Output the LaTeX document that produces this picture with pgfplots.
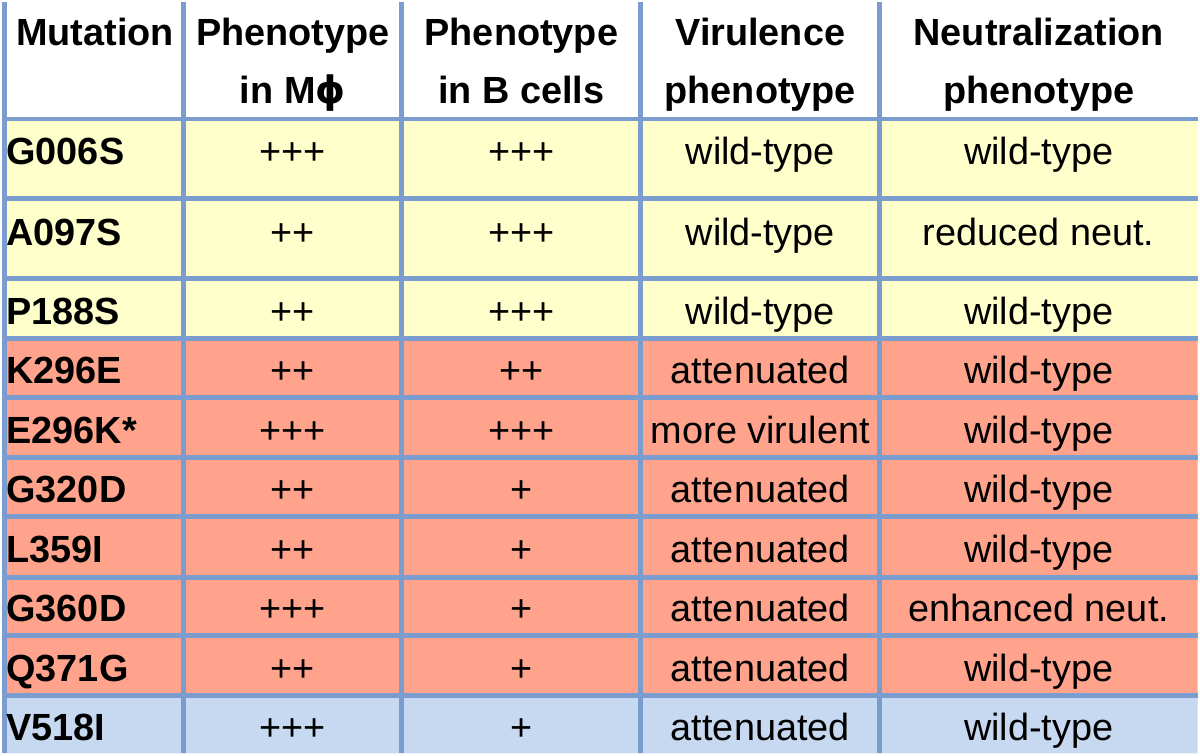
\documentclass[border=0pt]{standalone}
\usepackage{pgfplots}
\pgfplotsset{compat=1.18}
\usepackage{fontspec}
\setmainfont{Liberation Sans}
\newfontfamily\dvs{DejaVu Sans}
\definecolor{ylw}{RGB}{255,255,204}
\definecolor{sal}{RGB}{255,163,140}
\definecolor{lblue}{RGB}{198,217,240}
\definecolor{gridc}{RGB}{122,156,206}
\tikzset{tc/.style={font=\fontsize{19}{29}\selectfont,inner sep=0pt,outer sep=0pt}}
\begin{document}
\begin{tikzpicture}
\begin{axis}[width=600pt,height=377pt,scale only axis,
  xmin=0,xmax=1200,ymin=0,ymax=754,y dir=reverse,hide axis,clip=false]
% row backgrounds
\addplot[fill=ylw,draw=none,forget plot] coordinates {(0,117)(1200,117)(1200,337)(0,337)(0,117)};
\addplot[fill=sal,draw=none,forget plot] coordinates {(0,337)(1200,337)(1200,696)(0,696)(0,337)};
\addplot[fill=lblue,draw=none,forget plot] coordinates {(0,696)(1200,696)(1200,754)(0,754)(0,696)};
% horizontal rules
\pgfplotsinvokeforeach{117,197,277,337,397,457,516,577,636,696}{
  \addplot[gridc,line width=2.5pt,forget plot] coordinates {(0,#1)(1200,#1)};
}
% vertical rules
\pgfplotsinvokeforeach{2.5,182,401,641,881}{
  \addplot[gridc,line width=2.5pt,forget plot] coordinates {(#1,0)(#1,754)};
}
% header
\node[tc,anchor=base] at (axis cs:93,43) {\bfseries Mutation};
\node[tc,anchor=base] at (axis cs:291.5,43) {\bfseries Phenotype};
\node[tc,anchor=base] at (axis cs:291.5,101) {\bfseries in M{\dvs\bfseries ϕ}};
\node[tc,anchor=base] at (axis cs:521,43) {\bfseries Phenotype};
\node[tc,anchor=base] at (axis cs:521,101) {\bfseries in B cells};
\node[tc,anchor=base] at (axis cs:761,43) {\bfseries Virulence};
\node[tc,anchor=base] at (axis cs:761,101) {\bfseries phenotype};
\node[tc,anchor=base] at (axis cs:1040.5,43) {\bfseries Neutralization};
\node[tc,anchor=base] at (axis cs:1040.5,101) {\bfseries phenotype};
% rows
\newcommand{\trow}[6]{%
  \node[tc,anchor=base west] at (axis cs:4,#1) {\bfseries #2};
  \node[tc,anchor=base] at (axis cs:291.5,#1) {#3};
  \node[tc,anchor=base] at (axis cs:521,#1) {#4};
  \node[tc,anchor=base] at (axis cs:761,#1) {#5};
  \node[tc,anchor=base] at (axis cs:1040.5,#1) {#6};}
\trow{163}{G006S}{+++}{+++}{wild-type}{wild-type}
\trow{244}{A097S}{++}{+++}{wild-type}{reduced neut.}
\trow{323.5}{P188S}{++}{+++}{wild-type}{wild-type}
\trow{382.5}{K296E}{++}{++}{attenuated}{wild-type}
\trow{442.5}{E296K*}{+++}{+++}{more virulent}{wild-type}
\trow{502.5}{G320D}{++}{+}{attenuated}{wild-type}
\trow{562.5}{L359I}{++}{+}{attenuated}{wild-type}
\trow{621.5}{G360D}{+++}{+}{attenuated}{enhanced neut.}
\trow{681.5}{Q371G}{++}{+}{attenuated}{wild-type}
\trow{741}{V518I}{+++}{+}{attenuated}{wild-type}
\end{axis}
\end{tikzpicture}
\end{document}
